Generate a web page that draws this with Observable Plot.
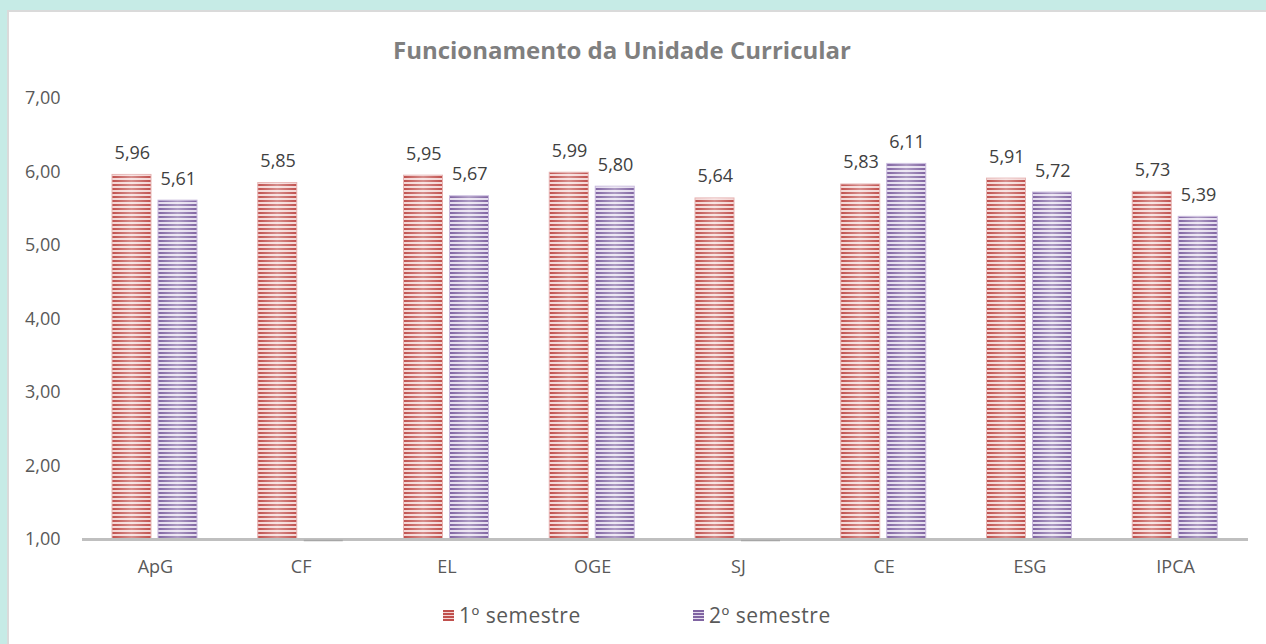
<!DOCTYPE html>
<html>
<head>
<meta charset="utf-8">
<script src="https://cdn.jsdelivr.net/npm/d3@7"></script>
<script src="https://cdn.jsdelivr.net/npm/@observablehq/plot@0.6"></script>
<style>
  html, body { margin: 0; padding: 0; width: 1266px; height: 644px; overflow: hidden; background: #c6ebe6; font-family: "Open Sans", sans-serif; }
  #panel { position: absolute; left: 7px; top: 10px; width: 1280px; height: 660px; background: #fff; border-left: 2px solid #dadada; border-top: 2px solid #dadada; box-sizing: border-box; }
  #title { position: absolute; left: 0; width: 1244px; top: 33px; text-align: center; font-weight: bold; font-size: 24px; color: #7f7f7f; }
  #chart { position: absolute; left: 0; top: 80px; }
  #legend { position: absolute; top: 601px; left: 0; width: 1266px; font-size: 21px; color: #595959; letter-spacing: 0.5px; }
  .item { position: absolute; display: flex; align-items: center; }
  .sw { width: 11px; height: 11px; margin-right: 5px; }
</style>
</head>
<body>
<div id="panel"></div>
<div id="title">Funcionamento da Unidade Curricular</div>
<div id="chart"></div>
<div id="legend"></div>
<script>
const categories = ["ApG", "CF", "EL", "OGE", "SJ", "CE", "ESG", "IPCA"];
const sem1 = [5.96, 5.85, 5.95, 5.99, 5.64, 5.83, 5.91, 5.73];
const sem2 = [5.61, null, 5.67, 5.80, null, 6.11, 5.72, 5.39];
const seriesNames = ["1º semestre", "2º semestre"];
const yTicks = [1, 2, 3, 4, 5, 6, 7];

const colors = {
  "1º semestre": { dark: "#c0504d", light: "#f4d6d5" },
  "2º semestre": { dark: "#8064a2", light: "#e4dcee" }
};

const fmt = v => d3.format(".2f")(v).replace(".", ",");

const data = [];
categories.forEach((c, i) => {
  data.push({ cat: c, sem: seriesNames[0], value: sem1[i] });
  data.push({ cat: c, sem: seriesNames[1], value: sem2[i] });
});
const d1 = data.filter(d => d.sem === seriesNames[0] && d.value != null);
const d2 = data.filter(d => d.sem === seriesNames[1] && d.value != null);
const dMissing = data.filter(d => d.value == null);

function defs() {
  const ns = "http://www.w3.org/2000/svg";
  const g = document.createElementNS(ns, "defs");
  const make = (id, c) => {
    const p = document.createElementNS(ns, "pattern");
    p.setAttribute("id", id);
    p.setAttribute("patternUnits", "userSpaceOnUse");
    p.setAttribute("width", 4);
    p.setAttribute("height", 4);
    const r1 = document.createElementNS(ns, "rect");
    r1.setAttribute("width", 4); r1.setAttribute("height", 4); r1.setAttribute("fill", c.light);
    const r2 = document.createElementNS(ns, "rect");
    r2.setAttribute("width", 4); r2.setAttribute("height", 2); r2.setAttribute("fill", c.dark);
    p.appendChild(r1); p.appendChild(r2);
    g.appendChild(p);
  };
  make("stripe1", colors[seriesNames[0]]);
  make("stripe2", colors[seriesNames[1]]);
  const lg = document.createElementNS(ns, "linearGradient");
  lg.setAttribute("id", "shine");
  lg.setAttribute("x1", "0"); lg.setAttribute("x2", "1"); lg.setAttribute("y1", "0"); lg.setAttribute("y2", "0");
  [["0", 0], ["0.5", 0.35], ["1", 0]].forEach(([o, a]) => {
    const s = document.createElementNS(ns, "stop");
    s.setAttribute("offset", o); s.setAttribute("stop-color", "#fff"); s.setAttribute("stop-opacity", a);
    lg.appendChild(s);
  });
  g.appendChild(lg);
  return g;
}

const W = 1266, H = 500;
const chart = Plot.plot({
  width: W,
  height: H,
  marginLeft: 82,
  marginRight: 18,
  marginTop: 18,
  marginBottom: 41,
  style: { fontFamily: "Open Sans, sans-serif", fontSize: "18px", color: "#595959", background: "transparent" },
  x: { type: "band", domain: categories, padding: 0, round: false, label: null },
  y: { domain: [1, 7], label: null },
  marks: [
    defs,
    Plot.axisY({ ticks: yTicks, tickSize: 0, tickPadding: 22, tickFormat: fmt, fontSize: 18, fill: "#595959" }),
    Plot.axisX({ tickSize: 0, tickPadding: 21, fontSize: 18, fill: "#595959" }),
    Plot.barY(d1, { x: "cat", y1: 1, y2: "value", insetLeft: 30, insetRight: 76.75, fill: "url(#stripe1)", stroke: "#e6b3b2", strokeWidth: 1 }),
    Plot.barY(d2, { x: "cat", y1: 1, y2: "value", insetLeft: 76, insetRight: 30.75, fill: "url(#stripe2)", stroke: "#c7b8dc", strokeWidth: 1 }),
    Plot.barY(d1, { x: "cat", y1: 1, y2: "value", insetLeft: 30, insetRight: 76.75, fill: "url(#shine)" }),
    Plot.barY(d2, { x: "cat", y1: 1, y2: "value", insetLeft: 76, insetRight: 30.75, fill: "url(#shine)" }),
    Plot.ruleY([1], { stroke: "#bfbfbf", strokeWidth: 3 }),
    Plot.tickY(dMissing, { x: "cat", y: 1, dy: 1, insetLeft: 76, insetRight: 30.75, stroke: "#a6a6a6", strokeWidth: 1.5 }),
    Plot.text(d1, { x: "cat", y: "value", text: d => fmt(d.value), dx: -23, dy: -16, lineAnchor: "bottom", fontSize: 18, fill: "#404040" }),
    Plot.text(d2, { x: "cat", y: "value", text: d => fmt(d.value), dx: 23, dy: -16, lineAnchor: "bottom", fontSize: 18, fill: "#404040" })
  ]
});
document.getElementById("chart").appendChild(chart);

const legend = document.getElementById("legend");
const legendX = [443, 693];
seriesNames.forEach((s, i) => {
  const it = document.createElement("div");
  it.className = "item";
  it.style.left = legendX[i] + "px";
  const sw = document.createElement("div");
  sw.className = "sw";
  sw.style.background = `repeating-linear-gradient(180deg, ${colors[s].dark} 0 2px, ${colors[s].light} 2px 3px)`;
  const t = document.createElement("span");
  t.textContent = s;
  it.appendChild(sw); it.appendChild(t);
  legend.appendChild(it);
});
</script>
</body>
</html>
